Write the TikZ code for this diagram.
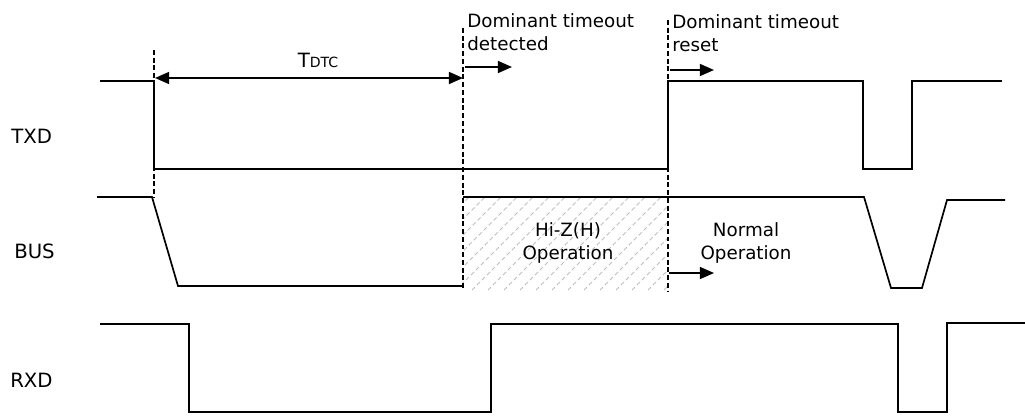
\documentclass[tikz,border=0pt]{standalone}
\usepackage{fontspec}
\setmainfont{DejaVu Sans}
\usetikzlibrary{arrows.meta}

\begin{document}
\begin{tikzpicture}[x = 0.025cm, y = -0.025cm,
	signal/.style = {line width = 1.2pt},
	marker/.style = {line width = 0.9pt, dash pattern = on 3.5pt off 2pt},
	hatch/.style = {gray!50, line width = 0.7pt, dash pattern = on 3pt off 2pt},
	tip/.style = {Triangle[length = 10pt, width = 8.5pt]},
	pointer/.style = {line width = 1.2pt, -{Triangle[length = 10pt, width = 8.5pt]}},
	txt/.style = {inner sep = 0pt, font = \fontsize{13}{16.3}\selectfont},
	signame/.style = {inner sep = 0pt, font = \fontsize{14}{16}\selectfont, anchor = base west}]

\useasboundingbox (0,0) rectangle (1025,415);

%% Draw Hatching

\begin{scope}
\clip (463,197) rectangle (668,290);
\foreach \x in {360, 376, ..., 680}{
	\draw [hatch] (\x, 290) -- ++(93, -93);
}
\end{scope}

%% Draw Markers

\draw [marker] (154, 50) -- (154, 197);
\draw [marker] (463, 28) -- (463, 290);
\draw [marker] (668, 20) -- (668, 292);

%% Draw Signals

\draw [signal] (100, 81) -- (154, 81) -- (154, 169) -- (668, 169) -- (668, 81)
	-- (863, 81) -- (863, 169) -- (912, 169) -- (912, 81) -- (1002, 81);

\draw [signal] (97, 197) -- (152, 197) -- (178, 286) -- (463, 286);
\draw [signal] (463, 197) -- (864, 197) -- (891, 288) -- (922, 288) -- (947, 200) -- (1005, 200);

\draw [signal] (100, 324) -- (189, 324) -- (189, 412) -- (491, 412) -- (491, 324)
	-- (898, 324) -- (898, 412) -- (947, 412) -- (947, 323) -- (1025, 323);

%% Signal Names

\node [signame] (txd) at (11, 143) {TXD};
\node [signame] (bus) at (14, 258) {BUS};
\node [signame] (rxd) at (10, 387) {RXD};

%% Timeout

\draw [line width = 1.2pt, {Triangle[length = 10pt, width = 8.5pt]}-{Triangle[length = 10pt, width = 8.5pt]}] (155, 78) -- (463, 78);
\node [txt, anchor = base] (tdtc) at (318, 67) {{\fontsize{14}{14}\selectfont T}{\fontsize{10}{10}\selectfont DTC}};

%% Events

\node [txt, anchor = north west, align = left] (detected) at (467, 13) {Dominant timeout\\detected};
\draw [pointer] (465, 67) -- (512, 67);

\node [txt, anchor = north west, align = left] (reset) at (672, 14) {Dominant timeout\\reset};
\draw [pointer] (670, 70) -- (714, 70);

%% Modes

\node [txt, anchor = north, align = center] (hiz) at (568, 222) {Hi-Z(H)\\Operation};
\node [txt, anchor = north, align = center] (normal) at (746, 222) {Normal\\Operation};
\draw [pointer] (669, 273) -- (714, 273);

\end{tikzpicture}
\end{document}
